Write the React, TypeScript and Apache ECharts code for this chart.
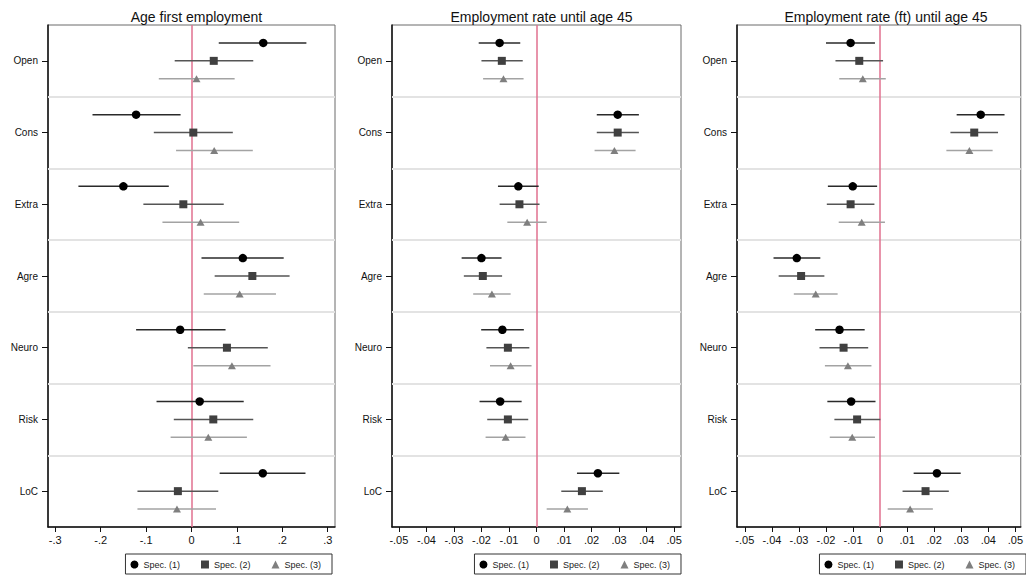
import React, { useEffect, useRef } from "react";
import * as echarts from "echarts";

const traits = ["Open", "Cons", "Extra", "Agre", "Neuro", "Risk", "LoC"];
const specNames = ["Spec. (1)", "Spec. (2)", "Spec. (3)"];
const panelTitles = ["Age first employment", "Employment rate until age 45", "Employment rate (ft) until age 45"];

// Panel 1: Age first employment — [estimate, low, high] per trait
const p1s1 = [[0.158, 0.060, 0.253], [-0.122, -0.218, -0.024], [-0.150, -0.249, -0.050], [0.113, 0.022, 0.203], [-0.025, -0.122, 0.075], [0.018, -0.077, 0.115], [0.157, 0.062, 0.251]];
const p1s2 = [[0.049, -0.037, 0.136], [0.004, -0.083, 0.091], [-0.018, -0.106, 0.071], [0.134, 0.051, 0.216], [0.078, -0.008, 0.168], [0.048, -0.039, 0.136], [-0.030, -0.119, 0.059]];
const p1s3 = [[0.011, -0.072, 0.095], [0.050, -0.034, 0.135], [0.020, -0.064, 0.105], [0.106, 0.027, 0.186], [0.089, 0.004, 0.174], [0.037, -0.046, 0.122], [-0.032, -0.119, 0.054]];

// Panel 2: Employment rate until age 45
const p2s1 = [[-0.0134, -0.0210, -0.0059], [0.0295, 0.0219, 0.0372], [-0.0066, -0.0140, 0.0008], [-0.0200, -0.0272, -0.0127], [-0.0124, -0.0201, -0.0046], [-0.0132, -0.0207, -0.0054], [0.0223, 0.0147, 0.0301]];
const p2s2 = [[-0.0126, -0.0200, -0.0050], [0.0295, 0.0219, 0.0372], [-0.0062, -0.0134, 0.0011], [-0.0195, -0.0264, -0.0125], [-0.0104, -0.0182, -0.0026], [-0.0104, -0.0179, -0.0030], [0.0165, 0.0090, 0.0241]];
const p2s3 = [[-0.0120, -0.0194, -0.0047], [0.0283, 0.0211, 0.0360], [-0.0034, -0.0106, 0.0037], [-0.0162, -0.0230, -0.0094], [-0.0094, -0.0169, -0.0018], [-0.0112, -0.0185, -0.0040], [0.0112, 0.0037, 0.0187]];

// Panel 3: Employment rate (ft) until age 45
const p3s1 = [[-0.0109, -0.0200, -0.0019], [0.0372, 0.0283, 0.0460], [-0.0101, -0.0193, -0.0011], [-0.0308, -0.0394, -0.0221], [-0.0150, -0.0240, -0.0057], [-0.0107, -0.0195, -0.0017], [0.0210, 0.0124, 0.0298]];
const p3s2 = [[-0.0077, -0.0165, 0.0011], [0.0348, 0.0260, 0.0436], [-0.0109, -0.0197, -0.0021], [-0.0292, -0.0375, -0.0206], [-0.0135, -0.0224, -0.0044], [-0.0085, -0.0169, 0.0001], [0.0168, 0.0083, 0.0254]];
const p3s3 = [[-0.0064, -0.0151, 0.0021], [0.0330, 0.0245, 0.0416], [-0.0068, -0.0153, 0.0018], [-0.0238, -0.0319, -0.0157], [-0.0119, -0.0204, -0.0032], [-0.0103, -0.0186, -0.0019], [0.0111, 0.0028, 0.0195]];

const xTicks1 = [-0.3, -0.2, -0.1, 0, 0.1, 0.2, 0.3];
const xTicks2 = [-0.05, -0.04, -0.03, -0.02, -0.01, 0, 0.01, 0.02, 0.03, 0.04, 0.05];
const separators = [0.5, 1.5, 2.5, 3.5, 4.5, 5.5];

const panels = [
  { title: panelTitles[0], specs: [p1s1, p1s2, p1s3], ticks: xTicks1, min: -0.316, max: 0.316 },
  { title: panelTitles[1], specs: [p2s1, p2s2, p2s3], ticks: xTicks2, min: -0.0525, max: 0.0525 },
  { title: panelTitles[2], specs: [p3s1, p3s2, p3s3], ticks: xTicks2, min: -0.0529, max: 0.052 },
];

const FONT = "'Liberation Sans', Arial, sans-serif";
const gridLayout = [
  { left: 48, width: 287 },
  { left: 392, width: 289 },
  { left: 737, width: 288 },
];
const legendRight = [694, 345, 0];
const specOffset = [-0.25, 0, 0.25];
const markerColor = ["#000000", "#404040", "#7f7f7f"];
const ciColor = ["#2a2a2a", "#555555", "#a3a3a3"];
const symbols = ["circle", "rect", "triangle"];
const symbolSizes: any[] = [8.5, 8, [8, 7]];

function fmtTick(v: number) {
  if (v === 0) return "0";
  const s = String(Math.abs(v)).replace(/^0/, "");
  return (v < 0 ? "-" : "") + s;
}

export default function App() {
  const ref = useRef<HTMLDivElement>(null);
  useEffect(() => {
    if (!ref.current) return;
    const chart = echarts.init(ref.current, null, { renderer: "svg" });
    const grid: any[] = [];
    const xAxis: any[] = [];
    const yAxis: any[] = [];
    const title: any[] = [];
    const legend: any[] = [];
    const series: any[] = [];

    panels.forEach((p, pi) => {
      const g = gridLayout[pi];
      grid.push({
        left: g.left,
        width: g.width,
        top: 25,
        height: 502,
        show: true,
        borderColor: "#6a6a6a",
        borderWidth: 1,
        backgroundColor: "#ffffff",
      });
      xAxis.push({
        type: "value",
        gridIndex: pi,
        min: p.min,
        max: p.max,
        splitLine: { show: false },
        axisLine: { show: true, onZero: false, lineStyle: { color: "#111", width: 1.5 } },
        axisTick: { show: true, length: 5, customValues: p.ticks, lineStyle: { color: "#111" } },
        axisLabel: {
          customValues: p.ticks,
          formatter: (v: number) => fmtTick(Math.round(v * 1000) / 1000),
          fontFamily: FONT,
          fontSize: 11,
          color: "#111",
          margin: 7,
          showMinLabel: true,
          showMaxLabel: true,
        },
      });
      yAxis.push({
        type: "value",
        gridIndex: pi,
        inverse: true,
        min: -0.5,
        max: 6.5,
        splitLine: { show: false },
        axisLine: { show: true, onZero: false, lineStyle: { color: "#111", width: 1.5 } },
        axisTick: { show: true, length: 6, customValues: traits.map((_, i) => i), lineStyle: { color: "#111" } },
        axisLabel: {
          customValues: traits.map((_, i) => i),
          formatter: (v: number) => traits[Math.round(v)] ?? "",
          fontFamily: FONT,
          fontSize: 10,
          color: "#111",
          margin: 10,
        },
      });
      title.push({
        text: p.title,
        left: g.left + g.width / 2,
        textAlign: "center",
        top: 5,
        textStyle: { fontFamily: FONT, fontSize: 14, fontWeight: "normal", color: "#111" },
      });
      legend.push({
        right: legendRight[pi],
        top: 554,
        orient: "horizontal",
        padding: [6, 11, 5, 5],
        borderColor: "#333",
        borderWidth: 1,
        itemWidth: 8,
        itemHeight: 8,
        itemGap: 21,
        selectedMode: false,
        textStyle: { fontFamily: FONT, fontSize: 9, color: "#222" },
        data: specNames.map((n, si) => ({
          name: n,
          icon: symbols[si],
          itemStyle: { color: markerColor[si] },
        })),
      });

      p.specs.forEach((rows, si) => {
        const yVals = rows.map((_, ti) => ti + specOffset[si]);
        series.push({
          type: "custom",
          name: specNames[si],
          xAxisIndex: pi,
          yAxisIndex: pi,
          z: 2,
          silent: true,
          encode: { x: [0, 1], y: 2 },
          data: rows.map((r, ti) => [r[1], r[2], yVals[ti]]),
          renderItem: (params: any, api: any) => {
            const y = api.value(2);
            const a = api.coord([api.value(0), y]);
            const b = api.coord([api.value(1), y]);
            return {
              type: "line",
              shape: { x1: a[0], y1: a[1], x2: b[0], y2: b[1] },
              style: { stroke: ciColor[si], lineWidth: 1.5 },
            };
          },
        });
        const sc: any = {
          type: "scatter",
          name: specNames[si],
          xAxisIndex: pi,
          yAxisIndex: pi,
          z: 4,
          symbol: symbols[si],
          symbolSize: symbolSizes[si],
          itemStyle: { color: markerColor[si], opacity: 1 },
          data: rows.map((r, ti) => [r[0], yVals[ti]]),
        };
        if (si === 0) {
          sc.markLine = {
            silent: true,
            symbol: "none",
            label: { show: false },
            z: 1,
            data: [
              ...separators.map((s) => ({ yAxis: s, lineStyle: { color: "#e3e3e3", width: 2, type: "solid" } })),
              { xAxis: 0, lineStyle: { color: "#e0708f", width: 1.5, type: "solid" } },
            ],
          };
        }
        series.push(sc);
      });
    });

    chart.setOption({
      animation: false,
      backgroundColor: "#ffffff",
      grid,
      xAxis,
      yAxis,
      title,
      legend,
      series,
    });
    return () => chart.dispose();
  }, []);
  return (
    <div
      ref={ref}
      style={{ position: "absolute", left: 0, top: 0, width: 1026, height: 577 }}
    />
  );
}
